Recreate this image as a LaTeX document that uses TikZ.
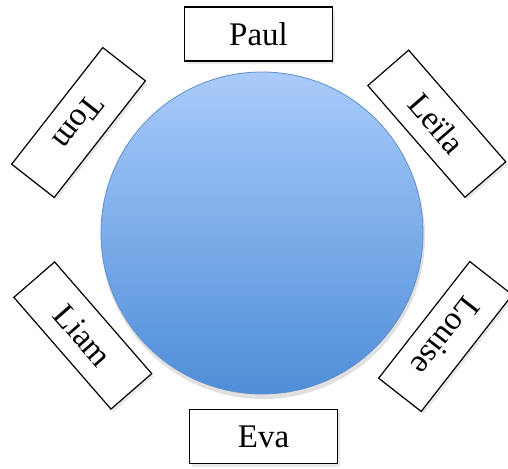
\documentclass[tikz,border=0pt]{standalone}
\usepackage{fontspec}
\setmainfont{Liberation Serif}
\usetikzlibrary{shadows}
\definecolor{tabletop}{HTML}{A9CBFB}
\definecolor{tablebot}{HTML}{4F8ED8}
\definecolor{tableedge}{HTML}{5E8FCB}
\begin{document}
\begin{tikzpicture}[x=1pt,y=1pt,
	seat/.style={draw,line width=1.2pt,fill=white,minimum width=148pt,minimum height=54pt,inner sep=0pt,
		font=\fontsize{33}{38}\selectfont,
		drop shadow={shadow xshift=2pt,shadow yshift=-3pt,opacity=0.18}}]
				\useasboundingbox (0,0) rectangle (508,468);
				\fill [black,opacity=0.12] (263,231) circle (162);
				\draw [tableedge,line width=0.8pt,top color=tabletop,bottom color=tablebot] (262,235) circle (161);
				\node [seat] (paul) at (258.5,434) {Paul};
				\node [seat] (eva) at (263.5,31.5) {Eva};
				\node [seat,rotate=232] (tom) at (78.5,345.5) {Tom};
				\node [seat,rotate=-49] (leila) at (436.8,344.3) {Leïla};
				\node [seat,rotate=-49] (liam) at (82.8,132.5) {Liam};
				\node [seat,rotate=232] (louise) at (445.5,131.5) {Louise};
			\end{tikzpicture}
\end{document}
